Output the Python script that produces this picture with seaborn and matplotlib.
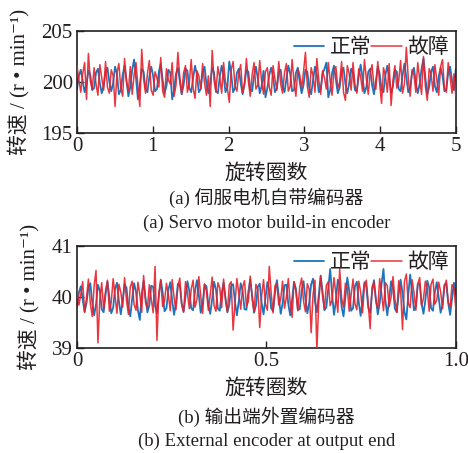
import numpy as np
import pandas as pd
import matplotlib
matplotlib.use("Agg")
import matplotlib.pyplot as plt
import seaborn as sns

# ---- speed records (r/min) ----
# (a) servo motor built-in encoder, 0-5 revolutions
motor_normal = [
    199.3, 200.6, 201.2, 200.1, 199.0, 199.8, 201.1, 200.7, 199.2, 199.4,
    200.9, 201.3, 199.9, 198.9, 199.6, 201.0, 201.4, 200.0, 199.1, 199.9,
    201.5, 200.8, 198.8, 199.2, 200.7, 201.6, 200.2, 198.6, 199.5, 201.2,
    202.2, 200.4, 198.3, 199.7, 201.3, 201.0, 199.3, 199.0, 200.5, 201.5,
    200.6, 199.1, 199.3, 201.0, 201.8, 200.2, 198.9, 199.6, 201.2, 200.9,
    198.3, 199.2, 200.8, 201.4, 200.1, 198.8, 199.7, 201.3, 201.1, 199.4,
    199.0, 200.4, 201.6, 200.7, 199.0, 199.3, 201.0, 201.5, 199.8, 198.9,
    199.9, 201.4, 200.9, 199.1, 198.9, 200.5, 201.6, 200.6, 199.0, 199.5,
    202.0, 200.8, 199.0, 199.4, 200.9, 201.3, 199.9, 198.8, 199.8, 201.2,
    201.0, 199.3, 199.1, 200.6, 201.5, 200.3, 198.9, 199.6, 201.1, 198.5,
    199.4, 200.7, 201.4, 200.5, 199.0, 199.4, 201.0, 201.2, 199.6, 199.0,
    200.3, 201.6, 200.8, 199.1, 199.2, 200.9, 201.4, 200.0, 198.9, 199.7,
    201.2, 201.0, 199.4, 198.8, 200.2, 201.5, 200.7, 199.0, 199.3, 200.8,
    201.3, 201.9, 198.5, 199.2, 200.9, 201.6, 200.2, 198.9, 199.5, 201.1,
    201.4, 199.8, 198.9, 199.9, 201.3, 200.9, 199.2, 199.1, 200.6, 201.7,
    200.4, 198.9, 199.5, 201.0, 201.3, 199.7, 198.8, 200.1, 201.5, 200.8,
    199.2, 199.0, 200.7, 201.6, 200.3, 198.9, 199.6, 201.2, 201.0, 199.3,
    199.1, 200.6, 201.8, 200.5, 199.0, 199.4, 200.9, 201.4, 199.9, 198.9,
    199.8, 201.3, 202.3, 200.4, 198.8, 199.5, 201.0, 201.5, 199.6, 199.0,
    200.5, 201.4, 200.6, 199.1, 199.3, 200.9, 201.5, 200.1, 199.2, 201.3,
]
motor_fault = [
    201.6, 200.2, 199.0, 200.8, 201.9, 198.3, 202.8, 200.1, 199.3, 201.4,
    199.8, 198.7, 201.7, 200.4, 199.2, 202.0, 199.5, 198.9, 201.2, 200.6,
    197.6, 200.9, 201.8, 199.4, 198.6, 202.3, 200.0, 199.1, 201.5, 198.8,
    200.7, 201.9, 199.6, 197.6, 203.2, 200.3, 198.9, 200.8, 202.1, 199.2,
    198.7, 201.0, 200.4, 199.5, 202.4, 199.1, 198.5, 201.3, 200.2, 199.8,
    201.9, 198.6, 199.7, 202.9, 200.5, 198.8, 200.9, 201.6, 199.0, 199.9,
    202.2, 199.4, 198.4, 201.1, 200.6, 199.3, 201.8, 199.9, 198.7, 200.6,
    197.6, 203.1, 200.2, 199.0, 201.5, 200.4, 198.9, 201.9, 200.0, 199.4,
    198.0, 201.2, 202.0, 199.6, 199.1, 200.9, 201.7, 198.9, 199.8, 202.3,
    200.1, 198.6, 200.7, 201.9, 199.3, 199.7, 202.1, 200.0, 198.8, 201.0,
    201.4, 199.5, 198.7, 201.6, 200.3, 199.2, 202.0, 199.8, 198.9, 200.9,
    201.8, 199.1, 199.6, 202.2, 200.0, 198.6, 201.3, 200.7, 199.4, 201.0,
    202.9, 199.6, 198.5, 201.4, 200.6, 199.0, 202.3, 200.2, 198.8, 201.1,
    200.4, 199.3, 201.9, 200.1, 198.7, 201.2, 201.5, 199.4, 200.0, 202.0,
    199.0, 198.2, 201.6, 200.8, 199.2, 201.9, 199.7, 198.9, 201.3, 200.5,
    199.1, 202.2, 200.3, 198.8, 200.9, 201.7, 199.5, 199.3, 202.0, 199.8,
    197.9, 201.4, 200.6, 199.0, 201.8, 197.7, 200.2, 201.6, 199.4, 200.1,
    202.1, 198.9, 199.8, 203.4, 200.4, 198.6, 201.2, 200.7, 199.0, 201.9,
    200.3, 198.8, 202.5, 199.6, 198.2, 201.3, 200.8, 199.1, 201.7, 200.2,
    198.7, 201.5, 202.2, 199.4, 199.0, 201.9, 200.5, 198.9, 200.8, 198.6,
]

# (b) external encoder at output end, 0-1 revolution
output_normal = [
    39.82, 40.08, 40.21, 39.95, 39.71, 39.88, 40.19, 40.27, 39.90, 39.64,
    39.86, 40.24, 40.12, 39.76, 39.70, 40.05, 40.30, 40.01, 39.68, 39.79,
    40.16, 40.28, 39.92, 39.66, 39.93, 40.25, 40.18, 39.80, 39.62, 39.97,
    40.27, 40.10, 39.74, 39.55, 40.06, 40.32, 39.98, 39.70, 39.84, 40.22,
    40.20, 39.83, 39.68, 40.02, 40.34, 40.09, 39.72, 39.78, 40.14, 40.29,
    39.93, 39.65, 39.90, 40.26, 40.23, 39.87, 39.71, 40.00, 40.31, 40.12,
    39.78, 39.74, 40.11, 40.33, 40.04, 39.69, 39.86, 40.24, 40.21, 39.85,
    39.67, 39.96, 40.30, 40.15, 39.77, 39.73, 40.08, 40.28, 39.99, 39.70,
    39.85, 40.22, 40.25, 39.90, 39.64, 39.92, 40.27, 40.13, 39.76, 39.75,
    40.10, 40.35, 40.03, 39.69, 39.83, 40.20, 40.26, 39.88, 39.66, 39.98,
    40.29, 40.14, 39.78, 39.72, 40.07, 40.33, 40.02, 39.67, 39.87, 40.23,
    40.24, 39.86, 39.64, 39.95, 40.30, 40.16, 39.75, 39.76, 40.12, 40.31,
    39.96, 39.68, 39.89, 40.25, 40.36, 39.91, 39.70, 40.04, 40.42, 40.10,
    39.74, 39.80, 40.18, 40.55, 40.05, 39.65, 39.92, 40.34, 40.22, 39.81,
    39.62, 40.01, 40.38, 40.13, 39.73, 39.78, 40.21, 40.30, 39.90, 39.63,
    39.95, 40.29, 40.20, 39.79, 39.69, 40.09, 40.33, 39.97, 39.66, 39.88,
    40.26, 40.55, 39.93, 39.64, 39.97, 40.31, 40.17, 39.77, 39.70, 40.06,
    40.34, 40.08, 39.71, 39.56, 40.03, 40.44, 40.11, 39.74, 39.82, 40.25,
    40.27, 39.87, 39.67, 39.94, 40.32, 40.19, 39.78, 39.73, 40.10, 40.29,
    39.99, 39.69, 39.85, 40.24, 40.26, 39.88, 39.65, 39.96, 40.28, 40.05,
]
output_fault = [
    40.18, 39.84, 40.05, 40.30, 39.70, 39.98, 40.35, 39.88, 39.62, 40.22,
    40.52, 39.10, 39.95, 40.28, 39.76, 40.12, 40.33, 39.72, 39.90, 40.36,
    40.02, 39.68, 40.25, 40.10, 39.80, 40.38, 39.94, 39.66, 40.20, 40.31,
    39.85, 39.74, 40.29, 40.05, 39.70, 40.42, 39.90, 39.78, 40.24, 39.96,
    39.69, 40.60, 39.15, 40.08, 40.32, 39.81, 39.92, 40.27, 40.04, 39.73,
    40.34, 39.99, 39.75, 40.21, 40.37, 39.86, 39.70, 40.30, 40.09, 39.77,
    40.15, 40.33, 39.80, 39.95, 40.40, 40.02, 39.68, 40.26, 40.11, 39.74,
    40.05, 40.39, 39.83, 39.72, 40.28, 40.18, 39.79, 40.35, 39.93, 39.70,
    40.24, 40.30, 39.35, 39.88, 40.36, 40.07, 39.76, 40.19, 40.32, 39.82,
    39.91, 40.41, 39.97, 39.71, 40.25, 40.14, 39.40, 40.03, 40.34, 39.86,
    39.74, 40.60, 40.08, 39.69, 40.22, 40.27, 39.84, 39.95, 40.31, 39.78,
    40.00, 40.36, 39.88, 39.60, 40.29, 40.12, 39.73, 40.20, 40.37, 39.92,
    39.71, 40.26, 40.15, 39.30, 40.05, 40.33, 38.95, 39.90, 40.40, 40.02,
    39.76, 40.23, 40.30, 39.83, 39.94, 40.38, 40.06, 39.70, 40.55, 39.98,
    39.80, 40.27, 40.18, 39.72, 40.04, 40.35, 39.87, 39.75, 40.31, 40.10,
    39.69, 40.24, 40.33, 39.85, 39.38, 40.20, 40.29, 39.91, 39.78, 40.36,
    40.07, 39.73, 40.28, 40.22, 39.81, 40.00, 40.40, 39.95, 39.70, 40.32,
    40.14, 39.36, 40.30, 40.45, 39.88, 39.79, 40.34, 40.09, 39.74, 40.26,
    40.38, 39.83, 39.97, 40.31, 40.16, 39.72, 40.25, 40.35, 39.86, 39.94,
    40.29, 40.11, 39.77, 40.20, 40.33, 39.90, 39.80, 40.24, 40.18, 39.76,
]

series_names = ["正常", "故障"]
xlabel_text = "旋转圈数"
ylabel_text = "转速 / (r • min⁻¹)"
captions_a = ["(a) 伺服电机自带编码器", "(a) Servo motor build-in encoder"]
captions_b = ["(b) 输出端外置编码器", "(b) External encoder at output end"]

sns.set_theme(style="white")
FONT_LIST = ["Liberation Serif", "Noto Sans CJK SC", "DejaVu Sans"]
plt.rcParams["font.family"] = FONT_LIST
plt.rcParams["axes.unicode_minus"] = False

BLUE = "#1c74bd"
RED = "#e8202a"
INK = "#231f20"
FS = 15

fig = plt.figure(figsize=(4.68, 4.53), dpi=100)
ax_a = fig.add_axes([0.1645, 0.7064, 0.8095, 0.2252])
ax_b = fig.add_axes([0.1645, 0.2318, 0.8095, 0.2252])


def draw_panel(ax, normal, fault, xmax, ylim, yticks, xticks, xticklabels):
    x = np.linspace(0, xmax, len(normal))
    df = pd.DataFrame({"x": np.concatenate([x, x]),
                       "v": np.concatenate([normal, fault]),
                       "s": [series_names[0]] * len(normal) + [series_names[1]] * len(fault)})
    sns.lineplot(data=df[df.s == series_names[0]], x="x", y="v", ax=ax,
                 color=BLUE, lw=1.3, label=series_names[0], zorder=2)
    sns.lineplot(data=df[df.s == series_names[1]], x="x", y="v", ax=ax,
                 color=RED, lw=1.1, alpha=0.9, label=series_names[1], zorder=3)
    ax.set_xlim(0, xmax)
    ax.set_ylim(*ylim)
    ax.set_yticks(yticks)
    ax.set_xticks(xticks)
    ax.set_xticklabels(xticklabels)
    ax.tick_params(direction="in", length=5, width=1.0, labelsize=FS,
                   bottom=True, left=True, top=False, right=False, pad=3, colors=INK)
    for sp in ax.spines.values():
        sp.set_color(INK)
        sp.set_linewidth(1.2)
    ax.set_xlabel(xlabel_text, fontsize=FS, labelpad=6, color=INK)
    ax.set_ylabel(ylabel_text, fontsize=FS, labelpad=8, color=INK)
    leg = ax.legend(loc="upper right", ncol=2, frameon=False, fontsize=FS,
                    handlelength=1.45, handletextpad=0.25, columnspacing=0.0,
                    borderaxespad=0.25, borderpad=0.1)
    for t in leg.get_texts():
        t.set_color(INK)


draw_panel(ax_a, motor_normal, motor_fault, 5, (195, 205), [195, 200, 205],
           [0, 1, 2, 3, 4, 5], ["0", "1", "2", "3", "4", "5"])
draw_panel(ax_b, output_normal, output_fault, 1.0, (39, 41), [39, 40, 41],
           [0, 0.5, 1.0], ["0", "0.5", "1.0"])

cx = 0.1645 + 0.8095 / 2
fig.text(cx, 1 - 198 / 453, captions_a[0], ha="center", va="center", fontsize=13.5, color=INK)
fig.text(cx, 1 - 223 / 453, captions_a[1], ha="center", va="center", fontsize=13.5, color=INK)
fig.text(cx, 1 - 417 / 453, captions_b[0], ha="center", va="center", fontsize=13.5, color=INK)
fig.text(cx, 1 - 441 / 453, captions_b[1], ha="center", va="center", fontsize=13.5, color=INK)

fig.savefig("out.png", dpi=100)
